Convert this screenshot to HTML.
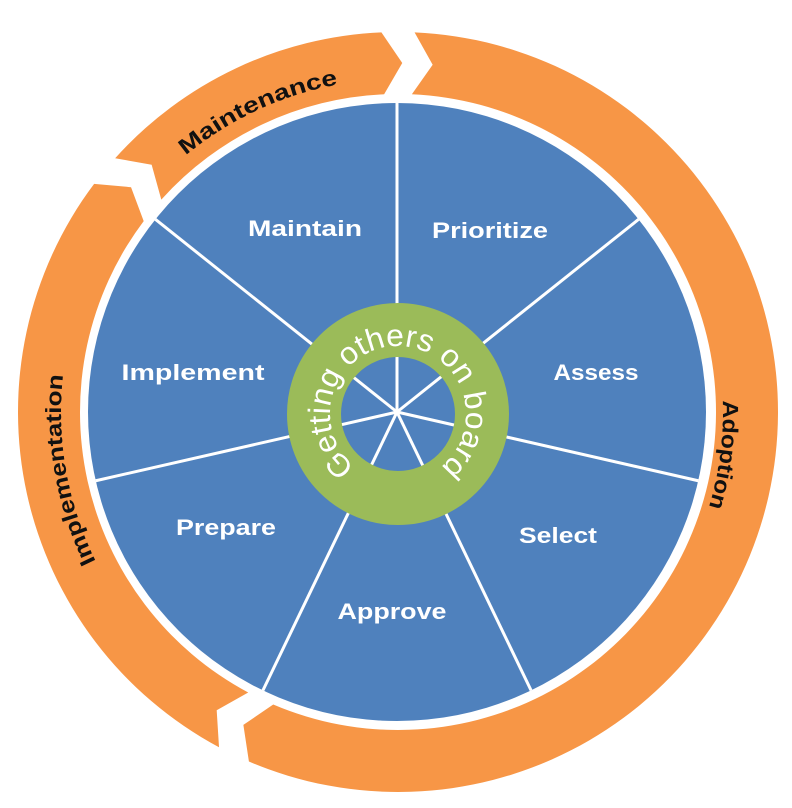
<!DOCTYPE html>
<html><head><meta charset="utf-8">
<style>
html,body{margin:0;padding:0;background:#fff;}
svg{display:block;}
.lbl{font-family:"Liberation Sans",sans-serif;font-weight:bold;font-size:22px;fill:#fff;text-anchor:middle;}
.ol{font-family:"Liberation Sans",sans-serif;font-weight:bold;font-size:22px;fill:#111;}
.gr{font-family:"Liberation Sans",sans-serif;font-size:31px;fill:#fff;}
</style></head>
<body>
<svg id="s" width="792" height="808" viewBox="0 0 792 808" xmlns="http://www.w3.org/2000/svg">
<defs id="d"></defs>
<g id="ring"></g>
<circle cx="397" cy="412" r="309" fill="#4F81BD"/>
<g id="spokes" stroke="#fff" stroke-width="3"></g>
<circle cx="398" cy="414" r="84" fill="none" stroke="#9BBB59" stroke-width="54"/>
<g id="txt"></g>
<text class="lbl" x="305" y="236" textLength="114" lengthAdjust="spacingAndGlyphs">Maintain</text>
<text class="lbl" x="490" y="238" textLength="116" lengthAdjust="spacingAndGlyphs">Prioritize</text>
<text class="lbl" x="596" y="380" textLength="85" lengthAdjust="spacingAndGlyphs">Assess</text>
<text class="lbl" x="193" y="380" textLength="143" lengthAdjust="spacingAndGlyphs">Implement</text>
<text class="lbl" x="226" y="535" textLength="100" lengthAdjust="spacingAndGlyphs">Prepare</text>
<text class="lbl" x="558" y="543" textLength="78" lengthAdjust="spacingAndGlyphs">Select</text>
<text class="lbl" x="392" y="619" textLength="109" lengthAdjust="spacingAndGlyphs">Approve</text>
</svg>
<script>
(function(){
var NS="http://www.w3.org/2000/svg";
var cx=398,cy=412,ro=380,ri=318,rm=349,g=1.8,d=3.2;
function P(r,a){a=a*Math.PI/180;return (cx+r*Math.cos(a)).toFixed(2)+","+(cy-r*Math.sin(a)).toFixed(2);}
function seg(T,H){
 var t=T-g/2,h=H+g/2;
 var large=((t-(h+d))>180)?1:0;
 return "M"+P(ro,t)+" A"+ro+","+ro+" 0 "+large+" 1 "+P(ro,h+d)+" L"+P(rm,h)+" L"+P(ri,h+d)+
 " A"+ri+","+ri+" 0 "+large+" 0 "+P(ri,t)+" L"+P(rm,t-d)+" Z";
}
var ring=document.getElementById("ring");
[[139,88.4],[88.4,-117.2],[242.8,139]].forEach(function(s){
 var p=document.createElementNS(NS,"path");p.setAttribute("d",seg(s[0],s[1]));p.setAttribute("fill","#F79646");ring.appendChild(p);});
var sp=document.getElementById("spokes");
for(var i=0;i<7;i++){
 var a=(90-i*360/7)*Math.PI/180;
 var l=document.createElementNS(NS,"line");
 l.setAttribute("x1",397);l.setAttribute("y1",412);
 l.setAttribute("x2",397+309*Math.cos(a));l.setAttribute("y2",412-309*Math.sin(a));sp.appendChild(l);
}
var defs=document.getElementById("d"),txt=document.getElementById("txt");
function arc(id,x0,y0,r,a1,a2){
 function Q(a){a=a*Math.PI/180;return (x0+r*Math.cos(a)).toFixed(2)+","+(y0-r*Math.sin(a)).toFixed(2);}
 var large=(a1-a2)>180?1:0;
 var p=document.createElementNS(NS,"path");p.setAttribute("id",id);
 p.setAttribute("d","M"+Q(a1)+" A"+r+","+r+" 0 "+large+" 1 "+Q(a2));defs.appendChild(p);
}
function tp(id,cls,str,len){
 var t=document.createElementNS(NS,"text");t.setAttribute("class",cls);
 var q=document.createElementNS(NS,"textPath");q.setAttribute("href","#"+id);
 q.setAttributeNS("http://www.w3.org/1999/xlink","xlink:href","#"+id);
 q.setAttribute("startOffset","50%");q.setAttribute("text-anchor","middle");
 if(len){q.setAttribute("textLength",len);q.setAttribute("lengthAdjust","spacingAndGlyphs");}
 q.textContent=str;t.appendChild(q);txt.appendChild(t);
}
arc("pm",cx,cy,333,175,55);
arc("pa",cx,cy,325,60,-75);
arc("pi",cx,cy,337,260,120);
tp("pm","ol","Maintenance",170);
tp("pa","ol","Adoption",108);
tp("pi","ol","Implementation",192);
arc("pg",398,414,68,266,-86);
tp("pg","gr","Getting others on board",335);
})();
</script>
</body></html>
